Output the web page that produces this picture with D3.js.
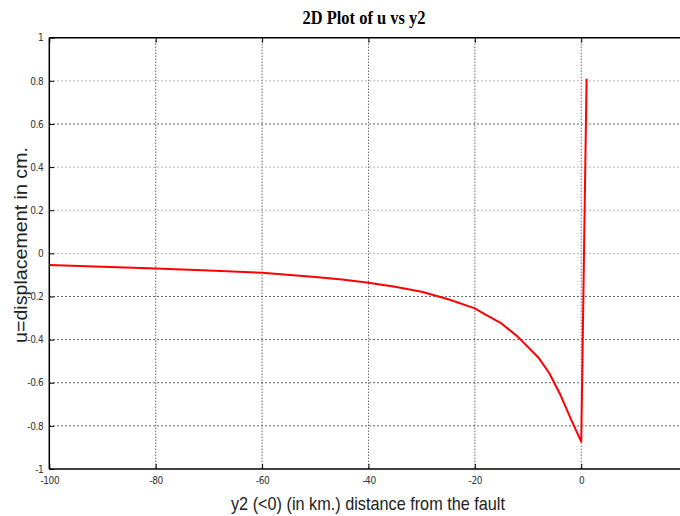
<!DOCTYPE html>
<html>
<head>
<meta charset="utf-8">
<script src="https://cdn.jsdelivr.net/npm/d3@7"></script>
<style>
  body { margin: 0; background: #fff; }
  svg { display: block; }
</style>
</head>
<body>
<div id="chart"></div>
<script>
// values
const y2 = [-100, -90, -80, -70, -60, -50, -45, -40, -35, -30, -25, -20, -18, -15, -12, -10, -8, -6, -4, -2, -1, 0, 1];
const u = [-0.054, -0.062, -0.070, -0.079, -0.090, -0.110, -0.121, -0.136, -0.155, -0.178, -0.213, -0.255,
  -0.284, -0.325, -0.385, -0.435, -0.485, -0.556, -0.652, -0.765, -0.82, -0.873, 0.81];
const xTicks = [-100, -80, -60, -40, -20, 0];
const yTicks = [-1, -0.8, -0.6, -0.4, -0.2, 0, 0.2, 0.4, 0.6, 0.8, 1];

const W = 680, H = 516;
const margin = { top: 37.7, right: 3, bottom: 47, left: 49.3 };
const width = W - margin.left - margin.right,
    height = H - margin.top - margin.bottom;

const svg = d3.select("#chart").append("svg")
    .attr("width", W)
    .attr("height", H);

const g = svg.append("g")
    .attr("transform", `translate(${margin.left},${margin.top})`);

const x = d3.scaleLinear().domain([-100, 18]).range([0, width]);
const y = d3.scaleLinear().domain([-1, 1]).range([height, 0]);

// plain hyphen for negatives, like the original
const fmt = d => String(d);

// grid
g.selectAll(".vgrid").data(xTicks.slice(1))
    .enter().append("line")
    .attr("x1", d => x(d)).attr("x2", d => x(d))
    .attr("y1", 0).attr("y2", height)
    .attr("stroke", "#222")
    .attr("stroke-width", 1)
    .attr("stroke-dasharray", "1,2");

g.selectAll(".hgrid").data(yTicks.slice(1, -1))
    .enter().append("line")
    .attr("x1", 0).attr("x2", W)
    .attr("y1", d => y(d)).attr("y2", d => y(d))
    .attr("stroke", d => (d === 0.8 || d === 0.2 || d === 0 || d === 0.4) ? "#999" : "#333")
    .attr("stroke-width", 1)
    .attr("stroke-dasharray", "1.5,2.5");

// axes
const axisLeft = d3.axisLeft(y).tickValues(yTicks).tickSizeInner(-5).tickSizeOuter(0)
    .tickPadding(6).tickFormat(fmt);
const axisBottom = d3.axisBottom(x).tickValues(xTicks).tickSizeInner(-5).tickSizeOuter(0)
    .tickPadding(8).tickFormat(fmt);
const axisTop = d3.axisTop(x).tickValues(xTicks).tickSizeInner(-5).tickSizeOuter(0)
    .tickFormat("");

const gl = g.append("g").call(axisLeft);
const gb = g.append("g").attr("transform", `translate(0,${height})`).call(axisBottom);
const gt = g.append("g").call(axisTop);

[gl, gb, gt].forEach(a => {
  a.select(".domain").attr("stroke", "#000").attr("stroke-width", 1.5);
  a.selectAll(".tick line").attr("stroke", "#000");
  a.selectAll("text")
      .attr("fill", "#333")
      .style("font-family", "'Liberation Sans Narrow', 'DejaVu Sans Condensed', Arial, sans-serif")
      .style("font-size", "10px")
      .style("letter-spacing", "-0.4px");
});
gl.select(".domain").attr("d", `M0,${height}V0`);
gb.select(".domain").attr("d", `M0,0H${W}`);
gt.select(".domain").attr("d", `M0,0H${W}`);

// curve
const pts = y2.map((v, i) => [v, u[i]]);
const line = d3.line()
    .x(d => x(d[0]))
    .y(d => y(d[1]));

g.append("path")
    .datum(pts)
    .attr("d", line)
    .attr("fill", "none")
    .attr("stroke", "#ff0000")
    .attr("stroke-width", 2)
    .attr("stroke-linejoin", "round");

// title and labels
svg.append("text")
    .attr("x", 364)
    .attr("y", 24)
    .attr("text-anchor", "middle")
    .style("font-family", "'Liberation Serif', 'DejaVu Serif', serif")
    .style("font-size", "18px")
    .style("font-weight", "bold")
    .attr("textLength", 123)
    .attr("lengthAdjust", "spacingAndGlyphs")
    .text("2D Plot of u vs y2");

svg.append("text")
    .attr("x", 368)
    .attr("y", 510)
    .attr("text-anchor", "middle")
    .attr("fill", "#222")
    .style("font-family", "'Liberation Sans', Arial, sans-serif")
    .style("font-size", "19px")
    .attr("textLength", 274)
    .attr("lengthAdjust", "spacingAndGlyphs")
    .text("y2 (<0) (in km.) distance from the fault");

svg.append("text")
    .attr("transform", "translate(27,245) rotate(-90)")
    .attr("text-anchor", "middle")
    .attr("fill", "#222")
    .style("font-family", "'Liberation Sans', Arial, sans-serif")
    .style("font-size", "19px")
    .attr("textLength", 196)
    .attr("lengthAdjust", "spacingAndGlyphs")
    .text("u=displacement in cm.");
</script>
</body>
</html>
